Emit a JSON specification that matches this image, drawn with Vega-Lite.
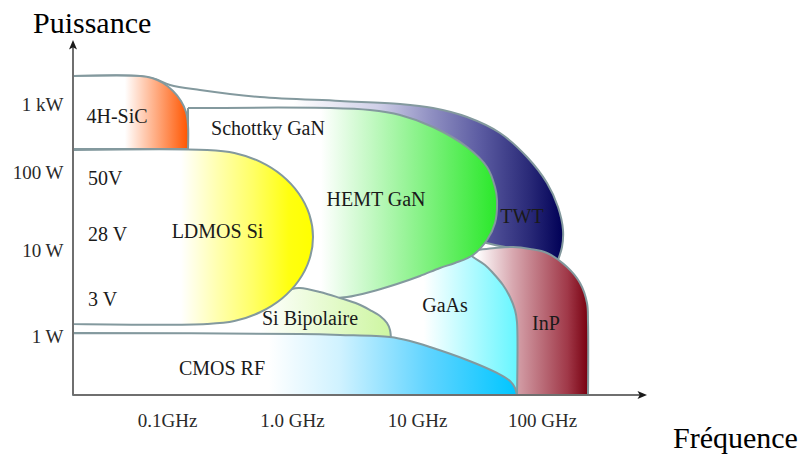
{
  "$schema": "https://vega.github.io/schema/vega-lite/v6.json",
  "width": 808,
  "height": 455,
  "autosize": {"type": "none"},
  "padding": 0,
  "background": "white",
  "config": {"view": {"stroke": null}},
  "datasets": {
    "twt": [{"i":1,"u":-1.752,"v":3.433},{"i":2,"u":-1.216,"v":3.433},{"i":3,"u":-1.096,"v":3.388},{"i":4,"u":-0.976,"v":3.299},{"i":5,"u":-0.736,"v":3.224},{"i":6,"u":-0.256,"v":3.119},{"i":7,"u":0.384,"v":3.06},{"i":8,"u":0.864,"v":3.015},{"i":9,"u":1.128,"v":2.955},{"i":10,"u":1.4,"v":2.821},{"i":11,"u":1.664,"v":2.582},{"i":12,"u":1.88,"v":2.224},{"i":13,"u":2.04,"v":1.859},{"i":14,"u":2.128,"v":1.551},{"i":15,"u":2.168,"v":1.256},{"i":16,"u":2.16,"v":1.038},{"i":17,"u":2.128,"v":0.884},{"i":17.5,"u":2.128,"v":0.884},{"i":18,"u":1.904,"v":0.977},{"i":19,"u":1.664,"v":1.051},{"i":20,"u":1.424,"v":1.128},{"i":21,"u":0.064,"v":1.192},{"i":22,"u":-1.752,"v":1.192},{"i":22.5,"u":-1.752,"v":1.192},{"i":23,"u":-1.752,"v":3.433}],
    "inp": [{"i":1,"u":1.344,"v":0.977},{"i":2,"u":1.48,"v":1.0},{"i":3,"u":1.624,"v":1.026},{"i":4,"u":1.768,"v":1.038},{"i":5,"u":1.904,"v":1.013},{"i":6,"u":2.04,"v":0.965},{"i":7,"u":2.2,"v":0.802},{"i":8,"u":2.304,"v":0.616},{"i":9,"u":2.36,"v":0.384},{"i":10,"u":2.368,"v":0.163},{"i":11,"u":2.368,"v":-0.686},{"i":11.5,"u":2.368,"v":-0.686},{"i":12,"u":1.344,"v":-0.686},{"i":12.5,"u":1.344,"v":-0.686},{"i":13,"u":1.344,"v":0.977}],
    "gaas": [{"i":1,"u":0.304,"v":1.128},{"i":2,"u":1.184,"v":1.128},{"i":3,"u":1.384,"v":1.0},{"i":4,"u":1.448,"v":0.919},{"i":5,"u":1.544,"v":0.826},{"i":6,"u":1.608,"v":0.733},{"i":7,"u":1.688,"v":0.593},{"i":8,"u":1.744,"v":0.453},{"i":9,"u":1.784,"v":0.302},{"i":10,"u":1.8,"v":0.163},{"i":11,"u":1.8,"v":-0.686},{"i":11.5,"u":1.8,"v":-0.686},{"i":12,"u":0.304,"v":-0.686},{"i":12.5,"u":0.304,"v":-0.686},{"i":13,"u":0.304,"v":1.128}],
    "hemt": [{"i":1,"u":-0.832,"v":2.955},{"i":2,"u":0.304,"v":2.955},{"i":3,"u":0.624,"v":2.925},{"i":4,"u":0.864,"v":2.851},{"i":5,"u":1.128,"v":2.672},{"i":6,"u":1.4,"v":2.373},{"i":7,"u":1.56,"v":2.075},{"i":8,"u":1.624,"v":1.808},{"i":9,"u":1.64,"v":1.641},{"i":10,"u":1.624,"v":1.346},{"i":11,"u":1.56,"v":1.128},{"i":12,"u":1.448,"v":0.942},{"i":13,"u":1.304,"v":0.849},{"i":14,"u":1.184,"v":0.791},{"i":15,"u":1.024,"v":0.698},{"i":16,"u":0.84,"v":0.605},{"i":17,"u":0.624,"v":0.512},{"i":18,"u":0.44,"v":0.453},{"i":19,"u":0.224,"v":0.43},{"i":20,"u":-0.832,"v":0.43},{"i":20.5,"u":-0.832,"v":0.43},{"i":21,"u":-0.832,"v":2.955}],
    "sibip": [{"i":1,"u":-1.752,"v":0.209},{"i":2,"u":-0.736,"v":0.233},{"i":3,"u":-0.256,"v":0.36},{"i":4,"u":-0.096,"v":0.465},{"i":5,"u":0,"v":0.547},{"i":6,"u":0.064,"v":0.558},{"i":7,"u":0.224,"v":0.512},{"i":8,"u":0.384,"v":0.442},{"i":9,"u":0.528,"v":0.372},{"i":10,"u":0.624,"v":0.302},{"i":11,"u":0.704,"v":0.233},{"i":12,"u":0.76,"v":0.151},{"i":13,"u":0.784,"v":0.07},{"i":14,"u":0.792,"v":-0.047},{"i":14.5,"u":0.792,"v":-0.047},{"i":15,"u":-1.752,"v":-0.047},{"i":15.5,"u":-1.752,"v":-0.047},{"i":16,"u":-1.752,"v":0.209}],
    "ldmos": [{"i":1,"u":-1.752,"v":2.328},{"i":2,"u":-0.68,"v":2.328},{"i":3,"u":-0.461,"v":2.284},{"i":4,"u":-0.256,"v":2.154},{"i":5,"u":-0.08,"v":1.955},{"i":6,"u":0.054,"v":1.724},{"i":7,"u":0.139,"v":1.455},{"i":8,"u":0.168,"v":1.167},{"i":9,"u":0.139,"v":0.89},{"i":10,"u":0.054,"v":0.645},{"i":11,"u":-0.08,"v":0.436},{"i":12,"u":-0.256,"v":0.276},{"i":13,"u":-0.461,"v":0.174},{"i":14,"u":-0.68,"v":0.14},{"i":15,"u":-1.752,"v":0.14},{"i":15.5,"u":-1.752,"v":0.14},{"i":16,"u":-1.752,"v":2.328}],
    "cmos": [{"i":1,"u":-1.752,"v":0.035},{"i":2,"u":0.064,"v":0.023},{"i":3,"u":0.384,"v":0.012},{"i":4,"u":0.784,"v":-0.012},{"i":5,"u":0.944,"v":-0.058},{"i":6,"u":1.104,"v":-0.128},{"i":7,"u":1.4,"v":-0.279},{"i":8,"u":1.64,"v":-0.43},{"i":9,"u":1.744,"v":-0.523},{"i":10,"u":1.784,"v":-0.605},{"i":11,"u":1.8,"v":-0.686},{"i":11.5,"u":1.8,"v":-0.686},{"i":12,"u":-1.752,"v":-0.686},{"i":12.5,"u":-1.752,"v":-0.686},{"i":13,"u":-1.752,"v":0.035}],
    "sic": [{"i":1,"u":-1.752,"v":3.433},{"i":2,"u":-1.216,"v":3.433},{"i":3,"u":-1.12,"v":3.403},{"i":4,"u":-1.032,"v":3.328},{"i":5,"u":-0.952,"v":3.209},{"i":6,"u":-0.888,"v":3.06},{"i":7,"u":-0.848,"v":2.896},{"i":8,"u":-0.832,"v":2.701},{"i":9,"u":-0.832,"v":2.343},{"i":9.5,"u":-0.832,"v":2.343},{"i":10,"u":-1.752,"v":2.343},{"i":10.5,"u":-1.752,"v":2.343},{"i":11,"u":-1.752,"v":3.433}],
    "axes": [{"u":-1.752,"v":-0.686,"u2":-1.752,"v2":3.896},{"u":-1.752,"v":-0.686,"u2":2.8,"v2":-0.686}],
    "arrowUp": [{"u":-1.752,"v":3.896}],
    "arrowRight": [{"u":2.8,"v":-0.686}],
    "labelsCenter": [
      {"label":"4H-SiC","u":-1.4,"v":2.731},
      {"label":"Schottky GaN","u":-0.192,"v":2.552},
      {"label":"LDMOS Si","u":-0.596,"v":1.154},
      {"label":"HEMT GaN","u":0.672,"v":1.564},
      {"label":"TWT","u":1.84,"v":1.346},
      {"label":"Si Bipolaire","u":0.144,"v":0.128},
      {"label":"CMOS RF","u":-0.56,"v":-0.453},
      {"label":"GaAs","u":1.224,"v":0.279},
      {"label":"InP","u":2.032,"v":0.07}
    ],
    "labelsLeft": [
      {"label":"50V","u":-1.632,"v":1.833},
      {"label":"28 V","u":-1.632,"v":1.115},
      {"label":"3 V","u":-1.632,"v":0.349}
    ],
    "titles": [
      {"label":"Puissance","u":-2.072,"v":4.075},
      {"label":"Fréquence","u":3.048,"v":-1.302}
    ]
  },
  "encoding": {
    "x": {
      "field": "u", "type": "quantitative",
      "scale": {"domain": [-2.336, 4.128], "nice": false, "zero": false},
      "axis": {
        "values": [-1, 0, 1, 2],
        "labelExpr": "datum.value == -1 ? '0.1GHz' : datum.value == 0 ? '1.0 GHz' : datum.value == 1 ? '10 GHz' : '100 GHz'",
        "orient": "bottom", "offset": -60, "domain": false, "ticks": false, "tickSize": 0, "grid": false, "title": null,
        "labelFont": "Liberation Serif", "labelFontSize": 19, "labelColor": "#2a2a2a",
        "labelBaseline": "alphabetic", "labelPadding": 31, "labelFlush": false, "labelOverlap": false
      }
    },
    "y": {
      "field": "v", "type": "quantitative",
      "scale": {"domain": [-1.384, 0, 1, 2, 4.567], "range": [455, 336, 250, 172, 0], "nice": false, "zero": false},
      "axis": {
        "values": [0, 1, 2, 3],
        "labelExpr": "datum.value == 0 ? '1 W' : datum.value == 1 ? '10 W' : datum.value == 2 ? '100 W' : '1 kW'",
        "orient": "left", "offset": -73, "domain": false, "ticks": false, "tickSize": 0, "grid": false, "title": null,
        "labelFont": "Liberation Serif", "labelFontSize": 19, "labelColor": "#2a2a2a",
        "labelPadding": 10, "labelOverlap": false
      }
    }
  },
  "layer": [
    {"data": {"name": "twt"}, "mark": {"type": "line", "interpolate": "catmull-rom", "stroke": "#83999e", "strokeWidth": 2,
      "fill": {"gradient": "linear", "x1": 0, "y1": 0, "x2": 1, "y2": 0, "stops": [
        {"offset": 0, "color": "#ffffff"}, {"offset": 0.45, "color": "#ffffff"}, {"offset": 0.62, "color": "#d0d0e8"},
        {"offset": 0.73, "color": "#9090c2"}, {"offset": 0.83, "color": "#5c5ca2"}, {"offset": 0.93, "color": "#2a2a78"},
        {"offset": 1, "color": "#000056"}]}},
      "encoding": {"order": {"field": "i", "type": "quantitative"}}},
    {"data": {"name": "inp"}, "mark": {"type": "line", "interpolate": "catmull-rom", "stroke": "#83999e", "strokeWidth": 2,
      "fill": {"gradient": "linear", "x1": 0, "y1": 0, "x2": 1, "y2": 0, "stops": [
        {"offset": 0, "color": "#ffffff"}, {"offset": 0.13, "color": "#ffffff"}, {"offset": 0.41, "color": "#d8a8b0"},
        {"offset": 0.84, "color": "#a03848"}, {"offset": 1, "color": "#780010"}]}},
      "encoding": {"order": {"field": "i", "type": "quantitative"}}},
    {"data": {"name": "gaas"}, "mark": {"type": "line", "interpolate": "catmull-rom", "stroke": "#83999e", "strokeWidth": 2,
      "fill": {"gradient": "linear", "x1": 0, "y1": 0, "x2": 1, "y2": 0, "stops": [
        {"offset": 0, "color": "#ffffff"}, {"offset": 0.5, "color": "#ffffff"}, {"offset": 1, "color": "#66f6ff"}]}},
      "encoding": {"order": {"field": "i", "type": "quantitative"}}},
    {"data": {"name": "hemt"}, "mark": {"type": "line", "interpolate": "catmull-rom", "stroke": "#83999e", "strokeWidth": 2,
      "fill": {"gradient": "linear", "x1": 0, "y1": 0, "x2": 1, "y2": 0, "stops": [
        {"offset": 0, "color": "#ffffff"}, {"offset": 0.43, "color": "#ffffff"}, {"offset": 1, "color": "#2ae82a"}]}},
      "encoding": {"order": {"field": "i", "type": "quantitative"}}},
    {"data": {"name": "sibip"}, "mark": {"type": "line", "interpolate": "catmull-rom", "stroke": "#83999e", "strokeWidth": 2,
      "fill": {"gradient": "linear", "x1": 0, "y1": 0, "x2": 1, "y2": 0, "stops": [
        {"offset": 0, "color": "#ffffff"}, {"offset": 0.59, "color": "#ffffff"}, {"offset": 1, "color": "#cdf6a0"}]}},
      "encoding": {"order": {"field": "i", "type": "quantitative"}}},
    {"data": {"name": "ldmos"}, "mark": {"type": "line", "interpolate": "catmull-rom", "stroke": "#83999e", "strokeWidth": 2,
      "fill": {"gradient": "linear", "x1": 0, "y1": 0, "x2": 1, "y2": 0, "stops": [
        {"offset": 0, "color": "#ffffff"}, {"offset": 0.45, "color": "#ffffff"}, {"offset": 0.6, "color": "#ffffb0"},
        {"offset": 0.75, "color": "#ffff66"}, {"offset": 0.9, "color": "#ffff10"}, {"offset": 1, "color": "#ffff00"}]}},
      "encoding": {"order": {"field": "i", "type": "quantitative"}}},
    {"data": {"name": "cmos"}, "mark": {"type": "line", "interpolate": "catmull-rom", "stroke": "#83999e", "strokeWidth": 2,
      "fill": {"gradient": "linear", "x1": 0, "y1": 0, "x2": 1, "y2": 0, "stops": [
        {"offset": 0, "color": "#ffffff"}, {"offset": 0.44, "color": "#ffffff"}, {"offset": 0.6, "color": "#d0f2ff"},
        {"offset": 0.8, "color": "#60d4ff"}, {"offset": 1, "color": "#00c6ff"}]}},
      "encoding": {"order": {"field": "i", "type": "quantitative"}}},
    {"data": {"name": "sic"}, "mark": {"type": "line", "interpolate": "catmull-rom", "stroke": "#83999e", "strokeWidth": 2,
      "fill": {"gradient": "linear", "x1": 0, "y1": 0, "x2": 1, "y2": 0, "stops": [
        {"offset": 0, "color": "#ffffff"}, {"offset": 0.45, "color": "#ffffff"}, {"offset": 1, "color": "#ff5500"}]}},
      "encoding": {"order": {"field": "i", "type": "quantitative"}}},
    {"data": {"name": "axes"}, "mark": {"type": "rule", "stroke": "#6f6f6f", "strokeWidth": 2},
      "encoding": {"x2": {"field": "u2"}, "y2": {"field": "v2"}}},
    {"data": {"name": "arrowUp"}, "mark": {"type": "point", "filled": true, "color": "#1a1a1a", "opacity": 1, "size": 100,
      "shape": "M0,-1L0.8,0.9L0,0.45L-0.8,0.9Z"}},
    {"data": {"name": "arrowRight"}, "mark": {"type": "point", "filled": true, "color": "#1a1a1a", "opacity": 1, "size": 100,
      "shape": "M1,0L-0.9,0.8L-0.45,0L-0.9,-0.8Z"}},
    {"data": {"name": "labelsCenter"}, "mark": {"type": "text", "align": "center", "baseline": "alphabetic",
      "font": "Liberation Serif", "fontSize": 20, "color": "#1a1a1a"},
      "encoding": {"text": {"field": "label"}}},
    {"data": {"name": "labelsLeft"}, "mark": {"type": "text", "align": "left", "baseline": "alphabetic",
      "font": "Liberation Serif", "fontSize": 20, "color": "#1a1a1a"},
      "encoding": {"text": {"field": "label"}}},
    {"data": {"name": "titles"}, "mark": {"type": "text", "align": "left", "baseline": "alphabetic",
      "font": "Liberation Serif", "fontSize": 30, "color": "#000000"},
      "encoding": {"text": {"field": "label"}}}
  ]
}
